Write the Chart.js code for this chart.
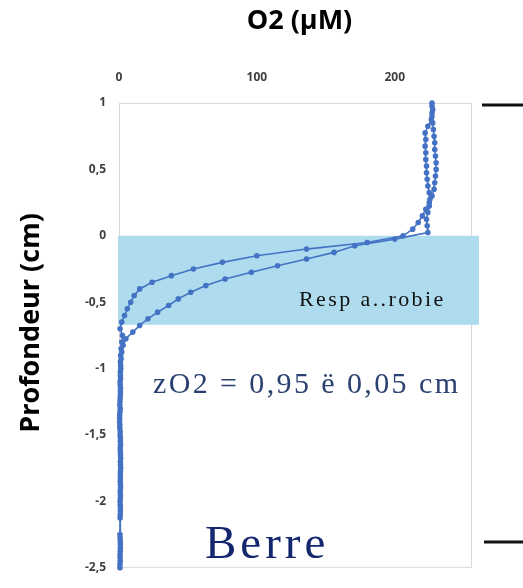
<!DOCTYPE html>
<html>
<head>
<meta charset="utf-8">
<script src="https://cdn.jsdelivr.net/npm/chart.js@4.4.0/dist/chart.umd.min.js"></script>
<style>
  html, body { margin: 0; padding: 0; background: #fff; }
  canvas { display: block; }
</style>
</head>
<body>
<canvas id="profil" width="523" height="588"></canvas>
<script>
// O2 microprofiles, Berre station (depth in cm, O2 in µM)
const depthA = [1, 0.95, 0.9, 0.85, 0.8, 0.75, 0.7, 0.65, 0.6, 0.55, 0.5, 0.45, 0.4, 0.35, 0.3, 0.25, 0.2, 0.15, 0.1, 0.05,
  0, -0.05, -0.1, -0.15, -0.2, -0.25, -0.3, -0.35, -0.4, -0.45, -0.5, -0.55, -0.6, -0.65, -0.7, -0.75, -0.8, -0.85, -0.9, -0.95,
  -1, -1.05, -1.1, -1.15, -1.2, -1.25, -1.3, -1.35, -1.4, -1.45, -1.5, -1.55, -1.6, -1.65, -1.7, -1.75, -1.8, -1.85, -1.9, -1.95,
  -2, -2.05, -2.1, -2.25, -2.3, -2.35, -2.4, -2.45, -2.5];
const o2A = [227, 227.5, 227, 227.5, 228, 228.5, 229, 229, 229.5, 230, 230, 229.5, 229, 228.5, 227, 225, 222.5, 220, 217, 213,
  206, 180, 136, 100, 75, 54, 38, 24, 15, 11, 8.5, 6, 4, 2, 0.8, 2.5, 2, 1.5, 1.2, 1,
  1.3, 1, 0.8, 1.1, 1, 0.7, 0.9, 0.5, 0.4, 0.6, 0.8, 1, 0.9, 1.1, 1, 1.2, 1, 0.9, 1.1, 1,
  0.8, 1, 0.9, 0.7, 0.9, 1, 0.8, 0.9, 0.7];

const depthB = [0.975, 0.925, 0.875, 0.825, 0.775, 0.725, 0.675, 0.625, 0.575, 0.525, 0.475, 0.425, 0.375, 0.325, 0.275, 0.225, 0.175, 0.125, 0.075, 0.025,
  -0.025, -0.075, -0.125, -0.175, -0.225, -0.275, -0.325, -0.375, -0.425, -0.475, -0.525, -0.575, -0.625, -0.675, -0.725, -0.775, -0.825, -0.875, -0.925, -0.975,
  -1.025, -1.075, -1.125, -1.175, -1.225, -1.275, -1.325, -1.375, -1.425, -1.475, -1.525, -1.575, -1.625, -1.675, -1.725, -1.775, -1.825, -1.875, -1.925, -1.975,
  -2.025, -2.075, -2.125, -2.275, -2.325, -2.375, -2.425, -2.475];
const o2B = [227, 227, 226.5, 224, 222, 222.5, 222, 222.5, 222.5, 223, 223, 223.5, 224, 225, 225.5, 225, 224, 223, 223.5, 224,
  200, 171, 156, 136, 115, 96, 77, 63, 52, 43, 36, 28, 21, 15, 10, 5, 3, 2, 1.5, 1.2,
  1, 1.1, 0.9, 1, 0.8, 0.6, 0.7, 0.5, 0.6, 0.9, 1, 1.1, 1, 1.2, 1.1, 1, 1, 1.1, 0.9, 1,
  0.9, 1, 0.8, 0.8, 1, 0.9, 0.8, 0.7];

const xTicks = [0, 100, 200];
const yTicks = [1, 0.5, 0, -0.5, -1, -1.5, -2, -2.5];
const bandDepth = [0, -0.67];   // aerobic respiration layer

const lineColor = "#4472c4";

function toPoints(xs, ys) {
  return xs.map((v, i) => ({ x: v, y: ys[i] }));
}

function fr(v) {
  return String(v).replace(".", ",");
}

const decor = {
  id: "decor",
  beforeDatasetsDraw(chart) {
    const { ctx, chartArea: a, scales: { y } } = chart;
    ctx.save();
    ctx.strokeStyle = "#d9d9d9";
    ctx.lineWidth = 1;
    ctx.strokeRect(a.left + 0.5, a.top + 0.5, a.right - a.left - 1, a.bottom - a.top - 1);

    const y0 = y.getPixelForValue(bandDepth[0]);
    const y1 = y.getPixelForValue(bandDepth[1]);
    ctx.fillStyle = "#aedcee";
    ctx.fillRect(a.left - 1, y0, a.right - a.left + 8, y1 - y0);
    ctx.restore();
  },
  afterDraw(chart) {
    const { ctx, chartArea: a } = chart;
    ctx.save();

    // axis titles
    ctx.fillStyle = "#000";
    ctx.font = "bold 27px 'Open Sans'";
    ctx.textAlign = "center";
    ctx.textBaseline = "middle";
    ctx.fillText("O2 (µM)", (a.left + a.right) / 2 + 4, 21);

    ctx.save();
    ctx.translate(31, 323);
    ctx.rotate(-Math.PI / 2);
    ctx.fillText("Profondeur (cm)", 0, 0);
    ctx.restore();

    // labels inside the plot
    ctx.textAlign = "left";
    ctx.letterSpacing = "2.4px";
    ctx.font = "22px 'Liberation Serif'";
    ctx.fillStyle = "#111";
    ctx.fillText("Resp a..robie", a.left + 180, 300);

    ctx.letterSpacing = "2.4px";
    ctx.font = "30px 'Liberation Serif'";
    ctx.fillStyle = "#2b4172";
    ctx.fillText("zO2 = 0,95 ë 0,05 cm", a.left + 34, 385);

    ctx.letterSpacing = "4px";
    ctx.font = "47px 'Liberation Serif'";
    ctx.fillStyle = "#14266e";
    ctx.fillText("Berre", a.left + 86, 546);

    // marks on the right edge
    ctx.letterSpacing = "0px";
    ctx.strokeStyle = "#111";
    ctx.lineWidth = 3;
    ctx.beginPath();
    ctx.moveTo(a.right + 10, 105);
    ctx.lineTo(chart.width, 105);
    ctx.moveTo(a.right + 12, 542);
    ctx.lineTo(chart.width, 542);
    ctx.stroke();
    ctx.restore();
  }
};

const tickFont = { family: "'Open Sans', sans-serif", size: 12, weight: "bold" };

new Chart(document.getElementById("profil"), {
  type: "scatter",
  data: {
    datasets: [
      { label: "Profil 1", data: toPoints(o2A, depthA) },
      { label: "Profil 2", data: toPoints(o2B, depthB) }
    ].map(ds => Object.assign(ds, {
      showLine: true,
      clip: false,
      borderColor: lineColor,
      backgroundColor: lineColor,
      borderWidth: 1.6,
      pointRadius: 2,
      pointHoverRadius: 2,
      tension: 0
    }))
  },
  options: {
    responsive: false,
    animation: false,
    layout: { padding: { left: 0, top: 0, right: 51, bottom: 13 } },
    plugins: { legend: { display: false }, tooltip: { enabled: false } },
    scales: {
      x: {
        type: "linear",
        position: "top",
        min: 0,
        max: 256,
        grid: { display: false, drawTicks: false },
        border: { display: false },
        afterBuildTicks: s => { s.ticks = xTicks.map(v => ({ value: v })); },
        afterFit: s => { s.height = 103; },
        ticks: { font: tickFont, color: "#404040", padding: 18, maxRotation: 0 }
      },
      y: {
        type: "linear",
        min: -2.5,
        max: 1,
        grid: { display: false, drawTicks: false },
        border: { display: false },
        afterBuildTicks: s => { s.ticks = yTicks.map(v => ({ value: v })); },
        afterFit: s => { s.width = 119; },
        ticks: { font: tickFont, color: "#404040", padding: 13, callback: v => fr(v) }
      }
    }
  },
  plugins: [decor]
});
</script>
</body>
</html>
